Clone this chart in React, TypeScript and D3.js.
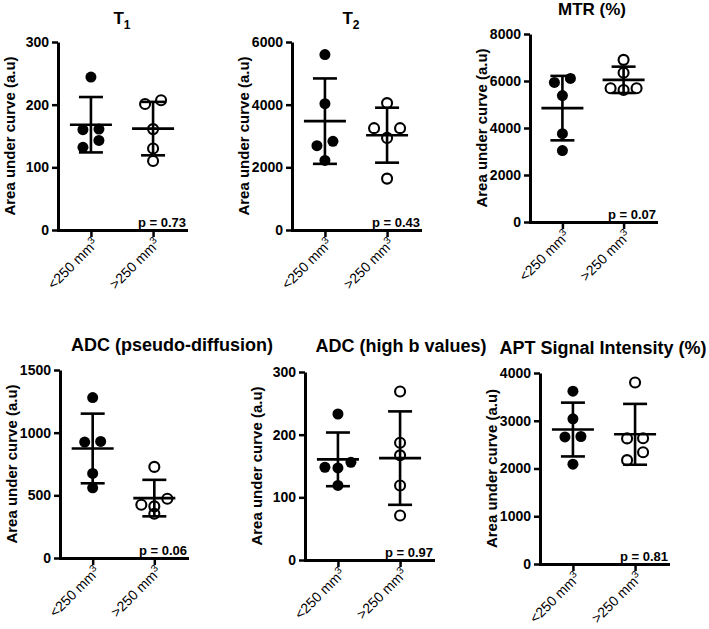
import React, { useEffect, useRef } from 'react';
import * as d3 from 'd3';

// categories and panel texts
const groups = ['<250 mm³', '>250 mm³'];
const titles = ['T', 'T', 'MTR (%)', 'ADC (pseudo-diffusion)', 'ADC (high b values)', 'APT Signal Intensity (%)'];
const titleSubs = ['1', '2', '', '', '', ''];
const pValues = ['p = 0.73', 'p = 0.43', 'p = 0.07', 'p = 0.06', 'p = 0.97', 'p = 0.81'];
const yLabel = 'Area under curve (a.u)';

// y tick values per panel
const yTicks = [
  [0, 100, 200, 300],
  [0, 2000, 4000, 6000],
  [0, 2000, 4000, 6000, 8000],
  [0, 500, 1000, 1500],
  [0, 100, 200, 300],
  [0, 1000, 2000, 3000, 4000],
];

// values, tumours < 250 mm3 (filled)
const smallTumours = [
  [244, 161, 160, 143, 132],
  [5600, 4030, 2830, 2690, 2220],
  [5940, 6110, 5380, 3760, 3040],
  [1280, 930, 925, 675, 560],
  [233, 148, 147, 156, 119],
  [3620, 3040, 2670, 2660, 2090],
];

// values, tumours > 250 mm3 (open)
const largeTumours = [
  [201, 207, 161, 130, 110],
  [4050, 3250, 3250, 2940, 1640],
  [6900, 6350, 5690, 5620, 5690],
  [727, 473, 425, 412, 353],
  [269, 187, 167, 119, 71],
  [3800, 2635, 2630, 2340, 2175],
];

// where each panel sits on the page
const layout = [
  { x0: 58, x1: 186, top: 42, bottom: 230, tx: 122, ty: 24, fs: 17 },
  { x0: 292, x1: 420, top: 42, bottom: 230, tx: 351, ty: 24, fs: 17 },
  { x0: 530, x1: 656, top: 34, bottom: 222, tx: 592, ty: 15, fs: 17 },
  { x0: 60, x1: 187, top: 370, bottom: 558, tx: 172, ty: 351, fs: 18 },
  { x0: 305, x1: 433, top: 372, bottom: 560, tx: 401, ty: 352, fs: 18 },
  { x0: 540, x1: 668, top: 373, bottom: 564, tx: 603, ty: 354, fs: 18 },
];

const font = 'Liberation Sans, Arial, sans-serif';

// spread points that sit at nearly the same height, prism style
function swarm(vals: number[], y: (v: number) => number) {
  const idx = d3.range(vals.length).sort((a, b) => vals[b] - vals[a]);
  const rows: number[][] = [];
  idx.forEach(i => {
    const row = rows[rows.length - 1];
    if (row && Math.abs(y(vals[i]) - y(vals[row[0]])) < 10.3) row.push(i);
    else rows.push([i]);
  });
  const off: number[] = vals.map(() => 0);
  rows.forEach(row => {
    const r = row.slice().sort((a, b) => vals[a] - vals[b]);
    const n = r.length;
    const slots: number[] = [];
    if (n % 2) slots.push(0);
    let k = n % 2 ? 1 : 0.5;
    while (slots.length < n) { slots.push(-k, k); k += 1; }
    r.forEach((i, j) => { off[i] = slots[j] * (n === 2 ? 16 : 13); });
  });
  return off;
}

function Chart() {
  const ref = useRef<SVGSVGElement>(null);

  useEffect(() => {
    const svg = d3.select(ref.current);
    svg.selectAll('*').remove();

    layout.forEach((L, p) => {
      const g = svg.append('g');
      const yMax = d3.max(yTicks[p]) as number;
      const y = d3.scaleLinear().domain([0, yMax]).range([L.bottom, L.top]);
      const x = d3.scalePoint<string>().domain(groups).range([L.x0, L.x1]).padding(0.53);

      // title
      const t = g.append('text')
        .attr('x', L.tx).attr('y', L.ty)
        .attr('text-anchor', 'middle')
        .style('font', `bold ${L.fs}px ${font}`)
        .text(titles[p]);
      if (titleSubs[p]) {
        t.append('tspan').attr('dy', 5).style('font-size', '12px').text(titleSubs[p]);
      }

      // y axis
      const ya = g.append('g')
        .attr('transform', `translate(${L.x0},0)`)
        .call(d3.axisLeft(y).tickValues(yTicks[p]).tickSize(6).tickSizeOuter(0).tickPadding(3).tickFormat(d3.format('d')));
      ya.select('.domain').attr('stroke-width', 3);
      ya.selectAll('.tick line').attr('stroke-width', 2.5);
      ya.selectAll('.tick text').style('font', `bold 14px ${font}`).attr('fill', '#000');

      // x axis, rotated labels with a raised 3
      const xa = g.append('g')
        .attr('transform', `translate(0,${L.bottom})`)
        .call(d3.axisBottom(x).tickSize(7).tickSizeOuter(0));
      xa.select('.domain').attr('stroke-width', 3).attr('stroke-linecap', 'square');
      xa.selectAll('.tick line').attr('stroke-width', 2.5);
      xa.selectAll<SVGTextElement, string>('.tick text')
        .attr('x', 0).attr('y', 0).attr('dy', '0.35em')
        .attr('text-anchor', 'end')
        .attr('transform', 'translate(4,11) rotate(-45)')
        .style('font', `14px ${font}`).attr('fill', '#000')
        .each(function (d) {
          const s = d3.select(this);
          s.text(null);
          s.append('tspan').text(d.replace('³', ''));
          s.append('tspan').attr('dy', '-0.5em').style('font-size', '10px').text('3');
        });

      // y label
      g.append('text')
        .attr('transform', `translate(${L.x0 - 48},${(L.top + L.bottom) / 2}) rotate(-90)`)
        .attr('text-anchor', 'middle').attr('dy', '0.35em')
        .style('font', `bold 15px ${font}`)
        .text(yLabel);

      // p value
      g.append('text')
        .attr('x', L.x1).attr('y', L.bottom - 3)
        .attr('text-anchor', 'end')
        .style('font', `bold 13px ${font}`)
        .text(pValues[p]);

      [smallTumours[p], largeTumours[p]].forEach((vals, gi) => {
        const cx = x(groups[gi]) as number;
        const off = swarm(vals, y);
        g.append('g').selectAll('circle').data(vals).join('circle')
          .attr('cx', (d, i) => cx + off[i])
          .attr('cy', d => y(d))
          .attr('r', gi === 0 ? 5.5 : 5)
          .attr('fill', gi === 0 ? '#000' : 'none')
          .attr('stroke', gi === 0 ? 'none' : '#000')
          .attr('stroke-width', 2.1);

        const m = d3.mean(vals) as number;
        const sd = d3.deviation(vals) as number;
        const lines = [
          [cx - 21, y(m), cx + 21, y(m)],
          [cx, y(m - sd), cx, y(m + sd)],
          [cx - 12, y(m + sd), cx + 12, y(m + sd)],
          [cx - 12, y(m - sd), cx + 12, y(m - sd)],
        ];
        g.append('g').selectAll('line').data(lines).join('line')
          .attr('x1', d => d[0]).attr('y1', d => d[1])
          .attr('x2', d => d[2]).attr('y2', d => d[3])
          .attr('stroke', '#000').attr('stroke-width', 2.6);
      });
    });
  }, []);

  return (
    <svg ref={ref} width={709} height={629}
      style={{ position: 'absolute', left: 0, top: 0, background: '#fff' }} />
  );
}

export default function App() {
  return <Chart />;
}
